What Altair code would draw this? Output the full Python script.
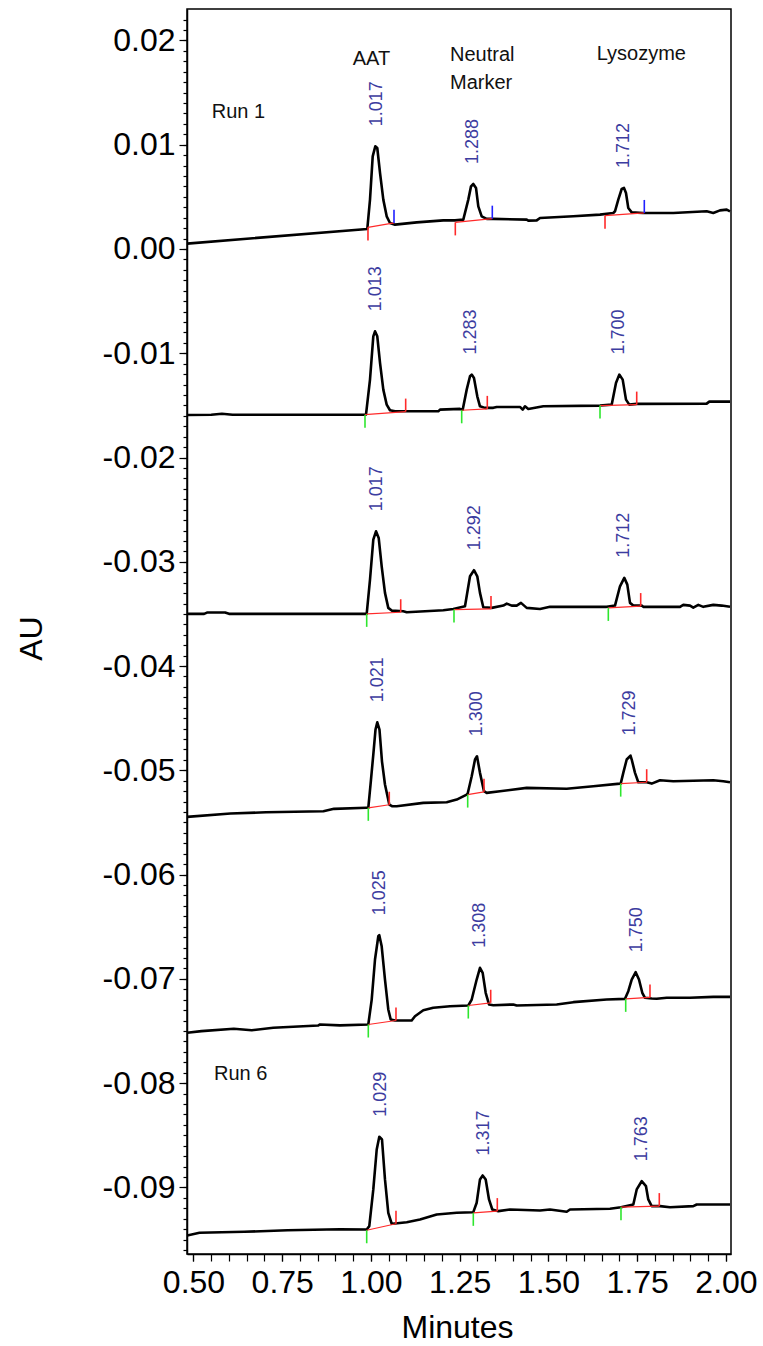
import altair as alt
import pandas as pd

# ---------------- data ----------------
RUN_NAMES = ["Run 1", "Run 2", "Run 3", "Run 4", "Run 5", "Run 6"]

R1_X = [0.482, 0.9896, 0.9972, 1.0048, 1.0121, 1.0177, 1.0254, 1.0347, 1.0442, 1.0535, 1.0676, 1.1287,
        1.2037, 1.2366, 1.2600, 1.2741, 1.2817, 1.2882, 1.2958, 1.3023, 1.3118, 1.3259, 1.3445, 1.4386,
        1.4431, 1.4668, 1.4761, 1.5699, 1.6451, 1.6825, 1.6873, 1.6966, 1.7062, 1.7127, 1.7183, 1.7248,
        1.7344, 1.7670, 1.8516, 1.9456, 1.9642, 1.9831, 2.0020, 2.0113]
R1_Y = [0.00051, 0.00192, 0.00473, 0.00888, 0.00984, 0.00968, 0.00729, 0.00473, 0.00313, 0.00249, 0.00233,
        0.00255, 0.00274, 0.00274, 0.00281, 0.00473, 0.00600, 0.00623, 0.00585, 0.00408, 0.00313, 0.00288,
        0.00288, 0.00281, 0.00272, 0.00274, 0.00297, 0.00313, 0.00329, 0.00345, 0.00361, 0.00473, 0.00575,
        0.00585, 0.00537, 0.00393, 0.00351, 0.00345, 0.00345, 0.00361, 0.00345, 0.00370, 0.00377, 0.00361]

R2_X = [0.482, 0.55, 0.58, 0.61, 0.9859, 0.9972, 1.0065, 1.0113, 1.0177, 1.0254, 1.0347, 1.0442, 1.0535,
        1.0676, 1.1896, 1.1944, 1.2507, 1.2583, 1.2696, 1.2789, 1.2837, 1.2901, 1.2994, 1.3070, 1.3211,
        1.3445, 1.3541, 1.4197, 1.4273, 1.4338, 1.4431, 1.4854, 1.6451, 1.6780, 1.6901, 1.6994, 1.7090,
        1.7183, 1.7276, 1.7485, 1.9456, 1.9530, 2.0113]
R2_Y = [-0.01593, -0.01590, -0.01581, -0.01590, -0.01589, -0.01253, -0.00838, -0.00790, -0.00838, -0.01093,
        -0.01349, -0.01493, -0.01547, -0.01557, -0.01557, -0.01541, -0.01534, -0.01541, -0.01349, -0.01221,
        -0.01205, -0.01237, -0.01413, -0.01509, -0.01524, -0.01524, -0.01515, -0.01515, -0.01541, -0.01509,
        -0.01534, -0.01509, -0.01502, -0.01493, -0.01285, -0.01205, -0.01253, -0.01445, -0.01493, -0.01486,
        -0.01483, -0.01464, -0.01464]

R3_X = [0.482, 0.53, 0.538, 0.589, 0.60, 0.9879, 0.9972, 1.0065, 1.0141, 1.0217, 1.0301, 1.0394, 1.0487,
        1.0583, 1.0910, 1.1006, 1.2037, 1.2318, 1.2648, 1.2789, 1.2901, 1.2994, 1.3070, 1.3163, 1.3400,
        1.3727, 1.3823, 1.3963, 1.4104, 1.4225, 1.4386, 1.4761, 1.5042, 1.6639, 1.6873, 1.7014, 1.7135,
        1.7220, 1.7296, 1.7389, 1.7625, 1.7670, 1.8704, 1.8797, 1.8986, 1.9079, 1.9220, 1.9361, 1.9642,
        1.9879, 2.0113]
R3_Y = [-0.03499, -0.03499, -0.03487, -0.03487, -0.03499, -0.03499, -0.03171, -0.02787, -0.02708, -0.02771,
        -0.03043, -0.03298, -0.03442, -0.03468, -0.03475, -0.03484, -0.03465, -0.03452, -0.03427, -0.03139,
        -0.03081, -0.03139, -0.03298, -0.03436, -0.03442, -0.03420, -0.03401, -0.03420, -0.03420, -0.03394,
        -0.03442, -0.03452, -0.03432, -0.03432, -0.03420, -0.03235, -0.03154, -0.03219, -0.03394, -0.03420,
        -0.03420, -0.03432, -0.03432, -0.03413, -0.03420, -0.03439, -0.03413, -0.03432, -0.03413, -0.03420,
        -0.03432]

R4_X = [0.482, 0.6042, 0.7042, 0.8659, 0.8958, 0.9870, 0.9924, 1.0000, 1.0065, 1.0127, 1.0177, 1.0239,
        1.0310, 1.0394, 1.0515, 1.0592, 1.0724, 1.1473, 1.2132, 1.2414, 1.2696, 1.2724, 1.2837, 1.2930,
        1.2986, 1.3070, 1.3183, 1.3259, 1.3634, 1.4386, 1.5513, 1.6262, 1.7014, 1.7034, 1.7107, 1.7203,
        1.7310, 1.7344, 1.7437, 1.7530, 1.7766, 1.7907, 1.8141, 1.8516, 1.9642, 1.9924, 2.0113]
R4_Y = [-0.05446, -0.05414, -0.05402, -0.05392, -0.05369, -0.05359, -0.05359, -0.05088, -0.04849, -0.04609,
        -0.04539, -0.04609, -0.04916, -0.05136, -0.05328, -0.05344, -0.05344, -0.05312, -0.05306, -0.05280,
        -0.05232, -0.05222, -0.05057, -0.04896, -0.04865, -0.05024, -0.05200, -0.05216, -0.05200, -0.05168,
        -0.05177, -0.05152, -0.05127, -0.05127, -0.05024, -0.04896, -0.04858, -0.04896, -0.05024, -0.05114,
        -0.05114, -0.05127, -0.05095, -0.05104, -0.05095, -0.05104, -0.05114]

R5_X = [0.482, 0.5225, 0.6135, 0.6642, 0.7248, 0.8510, 0.8563, 0.9127, 0.9924, 1.0020, 1.0113, 1.0206,
        1.0234, 1.0301, 1.0394, 1.0487, 1.0555, 1.0676, 1.1146, 1.1239, 1.1473, 1.1755, 1.2225, 1.2741,
        1.2837, 1.2977, 1.3070, 1.3146, 1.3231, 1.3324, 1.3445, 1.4008, 1.4104, 1.5231, 1.5699, 1.6639,
        1.7155, 1.7248, 1.7344, 1.7456, 1.7549, 1.7642, 1.7718, 1.7907, 1.8048, 1.8330, 1.8986, 1.9642,
        2.0113]
R5_Y = [-0.07517, -0.07501, -0.07478, -0.07492, -0.07469, -0.07447, -0.07437, -0.07446, -0.07437, -0.07198,
        -0.06814, -0.06591, -0.06581, -0.06687, -0.07006, -0.07293, -0.07389, -0.07399, -0.07399, -0.07358,
        -0.07300, -0.07277, -0.07262, -0.07255, -0.07198, -0.07006, -0.06894, -0.06942, -0.07133, -0.07245,
        -0.07252, -0.07245, -0.07255, -0.07245, -0.07223, -0.07198, -0.07191, -0.07118, -0.07006, -0.06936,
        -0.07006, -0.07133, -0.07181, -0.07188, -0.07191, -0.07181, -0.07181, -0.07172, -0.07172]

R6_X = [0.482, 0.5169, 0.6431, 0.7648, 0.9127, 0.9879, 0.9952, 1.0065, 1.0161, 1.0234, 1.0310, 1.0394,
        1.0487, 1.0583, 1.0676, 1.1006, 1.1380, 1.1851, 1.2414, 1.2882, 1.2977, 1.3070, 1.3146, 1.3231,
        1.3324, 1.3417, 1.3586, 1.3915, 1.4761, 1.5042, 1.5513, 1.5606, 1.6732, 1.7042, 1.7389, 1.7485,
        1.7625, 1.7746, 1.7811, 1.7907, 1.8141, 1.8423, 1.9079, 1.9175, 2.0113]
R6_Y = [-0.09460, -0.09434, -0.09425, -0.09410, -0.09400, -0.09403, -0.09371, -0.09019, -0.08636, -0.08514,
        -0.08540, -0.08923, -0.09243, -0.09348, -0.09345, -0.09333, -0.09307, -0.09259, -0.09243, -0.09237,
        -0.09147, -0.08923, -0.08885, -0.08923, -0.09115, -0.09211, -0.09227, -0.09211, -0.09221, -0.09211,
        -0.09233, -0.09211, -0.09204, -0.09189, -0.09163, -0.09019, -0.08940, -0.08988, -0.09115, -0.09179,
        -0.09179, -0.09189, -0.09179, -0.09163, -0.09163]

TRACE_X = [R1_X, R2_X, R3_X, R4_X, R5_X, R6_X]
TRACE_Y = [R1_Y, R2_Y, R3_Y, R4_Y, R5_Y, R6_Y]

# peak retention times (labels) and apex heights
PEAK_RT = [[1.017, 1.288, 1.712], [1.013, 1.283, 1.700], [1.017, 1.292, 1.712],
           [1.021, 1.300, 1.729], [1.025, 1.308, 1.750], [1.029, 1.317, 1.763]]
PEAK_APEX = [[0.00984, 0.00623, 0.00585], [-0.00790, -0.01205, -0.01205], [-0.02708, -0.03081, -0.03154],
             [-0.04539, -0.04865, -0.04858], [-0.06581, -0.06894, -0.06936], [-0.08514, -0.08885, -0.08940]]

# integration start / end points (time, baseline AU)
INT_START_X = [[0.9915, 1.2375, 1.6592], [0.9831, 1.2555, 1.6451], [0.9879, 1.2338, 1.6685],
               [0.9924, 1.2724, 1.7034], [0.9924, 1.2741, 1.7175], [0.9879, 1.2882, 1.7042]]
INT_START_Y = [[0.00207, 0.00255, 0.00319], [-0.01589, -0.01547, -0.01502], [-0.03499, -0.03458, -0.03442],
               [-0.05359, -0.05232, -0.05127], [-0.07437, -0.07255, -0.07191], [-0.09410, -0.09243, -0.09189]]
INT_END_X = [[1.0648, 1.3417, 1.7699], [1.0977, 1.3276, 1.7485], [1.0837, 1.3380, 1.7597],
             [1.0515, 1.3183, 1.7766], [1.0704, 1.3372, 1.7859], [1.0704, 1.3558, 1.8121]]
INT_END_Y = [[0.00250, 0.00290, 0.00345], [-0.01560, -0.01534, -0.01493], [-0.03484, -0.03452, -0.03425],
             [-0.05330, -0.05206, -0.05114], [-0.07399, -0.07229, -0.07178], [-0.09348, -0.09227, -0.09179]]

# annotation texts
ANNOT_TEXT = ["AAT", "Neutral\nMarker", "Lysozyme", "Run 1", "Run 6"]
ANNOT_X = [0.9485, 1.2225, 1.6358, 0.5513, 0.5577]
ANNOT_Y = [0.01767, 0.01805, 0.01815, 0.01256, -0.07965]

X_DOMAIN = [0.4817, 2.0141]
Y_DOMAIN = [-0.09638, 0.02301]
X_MAJOR = [0.50, 0.75, 1.00, 1.25, 1.50, 1.75, 2.00]
X_MINOR = [round(0.5 + 0.05 * i, 2) for i in range(31)]
Y_MAJOR = [round(0.01 * i, 2) for i in range(-9, 3)]
Y_MINOR = [round(0.001 * i, 3) for i in range(-96, 23)]

# ---------------- styles ----------------
TICK_LEN = 0.00125
RED = "#ff2a2a"
GREEN = "#2ee62e"
BLUE = "#2020ff"
LABEL_BLUE = "#3c3ca0"
FONT = "Liberation Sans, Arial, sans-serif"

# ---------------- tables ----------------
rows = []
for r, (xs, ys) in enumerate(zip(TRACE_X, TRACE_Y), start=1):
    assert len(xs) == len(ys), r
    for i, (x, y) in enumerate(zip(xs, ys)):
        rows.append({"run": r, "order": i, "t": x, "au": y})
trace_df = pd.DataFrame(rows)

lab_rows, base_rows, tick_rows = [], [], []
for r in range(6):
    for k in range(3):
        lab_rows.append({"run": r + 1, "rt": PEAK_RT[r][k], "apex": PEAK_APEX[r][k],
                         "txt": f"{PEAK_RT[r][k]:.3f}"})
        sx, sy = INT_START_X[r][k], INT_START_Y[r][k]
        ex, ey = INT_END_X[r][k], INT_END_Y[r][k]
        base_rows.append({"xs": sx, "ys": sy, "xe": ex, "ye": ey})
        tick_rows.append({"t": sx, "y1": sy, "y2": sy - TICK_LEN, "c": RED if r == 0 else GREEN})
        tick_rows.append({"t": ex, "y1": ey, "y2": ey + TICK_LEN, "c": BLUE if r == 0 else RED})
lab_df = pd.DataFrame(lab_rows)
base_df = pd.DataFrame(base_rows)
tick_df = pd.DataFrame(tick_rows)
ann_df = pd.DataFrame({"txt": ANNOT_TEXT, "x": ANNOT_X, "y": ANNOT_Y})

xscale = alt.Scale(domain=X_DOMAIN, nice=False, zero=False)
yscale = alt.Scale(domain=Y_DOMAIN, nice=False, zero=False)

Y_LABEL_EXPR = "replace(format(datum.value, '.2f'), '\u2212', '-')"

x_axis = alt.Axis(values=X_MAJOR, format=".2f", title="Minutes", tickSize=7, orient="bottom",
                  labelPadding=6, labelFontSize=32, titleFontSize=32, labelOverlap=False,
                  labelFlush=False, labelBound=False, titleX=270, titleY=90,
                  titleBaseline="bottom", titleAlign="center")
x_minor_axis = alt.Axis(values=X_MINOR, tickSize=7, labels=False, domain=False, title=None,
                        orient="bottom", grid=False)
y_axis = alt.Axis(values=Y_MAJOR, labelExpr=Y_LABEL_EXPR, title="AU", tickSize=8, orient="left",
                  labelPadding=4, labelFontSize=32, titleFontSize=32, labelOverlap=False,
                  labelFlush=False, labelBound=False, titleAngle=270, titleX=-156, titleY=629,
                  titleAlign="center", titleBaseline="middle")
y_minor_axis = alt.Axis(values=Y_MINOR, tickSize=4, labels=False, domain=False, title=None,
                        orient="left", grid=False)

trace = alt.Chart(trace_df).mark_line(color="black", strokeWidth=2.6, clip=True,
                                      strokeJoin="round").encode(
    x=alt.X("t:Q", scale=xscale, axis=x_axis),
    y=alt.Y("au:Q", scale=yscale, axis=y_axis),
    detail="run:N",
    order="order:Q",
)
baselines = alt.Chart(base_df).mark_rule(color=RED, strokeWidth=1.2).encode(
    x=alt.X("xs:Q", scale=xscale, axis=x_minor_axis), x2="xe:Q",
    y=alt.Y("ys:Q", scale=yscale, axis=y_minor_axis), y2="ye:Q",
)
ticks = alt.Chart(tick_df).mark_rule(strokeWidth=1.6).encode(
    x=alt.X("t:Q", scale=xscale, axis=None),
    y=alt.Y("y1:Q", scale=yscale, axis=None), y2="y2:Q",
    color=alt.Color("c:N", scale=None),
)
labels = alt.Chart(lab_df).mark_text(angle=270, align="left", baseline="middle", dx=20,
                                     fontSize=18, font=FONT, color=LABEL_BLUE).encode(
    x=alt.X("rt:Q", scale=xscale, axis=None),
    y=alt.Y("apex:Q", scale=yscale, axis=None),
    text="txt:N",
)
ann = alt.Chart(ann_df).mark_text(align="left", baseline="alphabetic", fontSize=20, font=FONT,
                                  color="#111111", lineBreak="\n", lineHeight=28).encode(
    x=alt.X("x:Q", scale=xscale, axis=None),
    y=alt.Y("y:Q", scale=yscale, axis=None),
    text="txt:N",
)

chart = alt.layer(trace, baselines, ticks, labels, ann).resolve_axis(
    x="independent", y="independent"
).properties(
    width=544, height=1245,
    padding={"left": 187, "top": 9, "right": 32, "bottom": 92},
    autosize=alt.AutoSizeParams(type="none"),
    background="white",
).configure_view(stroke="black", strokeWidth=1.5).configure_axis(
    domainColor="black", domainWidth=1.5, tickColor="black", tickWidth=1.2,
    labelColor="black", titleColor="black", grid=False,
    labelFont=FONT, titleFont=FONT, titleFontWeight="normal",
)

chart.save("out.html", embed_options={"renderer": "svg", "actions": False})
